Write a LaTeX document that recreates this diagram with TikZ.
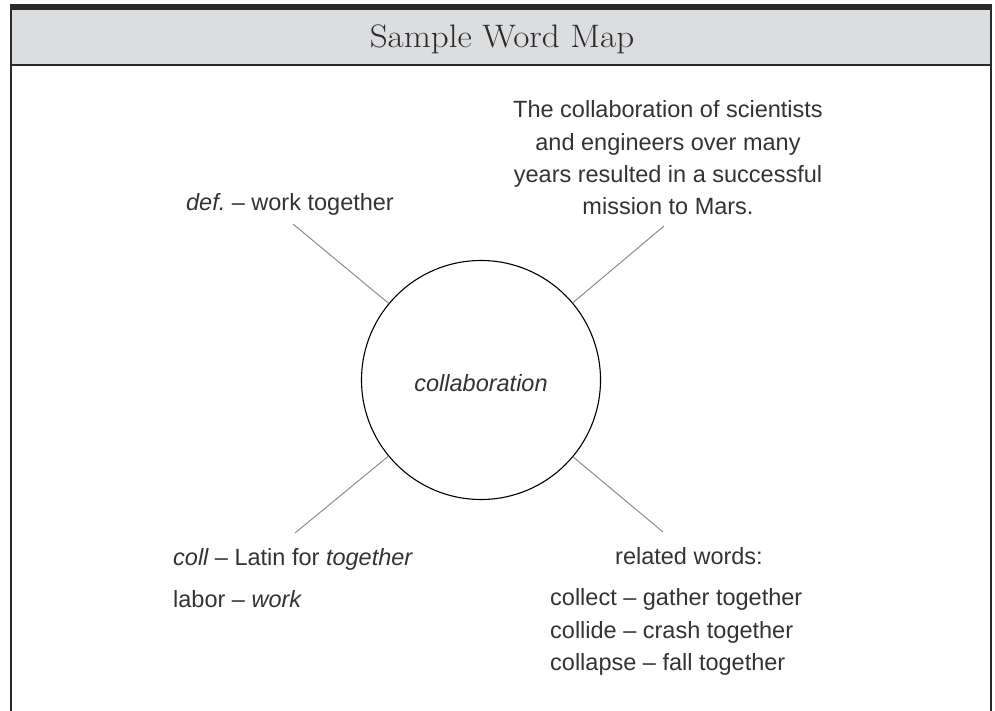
\documentclass[tikz,border=0pt]{standalone}
\usepackage{fontspec}
\usepackage{graphicx}
\newfontfamily\handfont{Liberation Sans}
\definecolor{bandgray}{HTML}{DCDDDF}
\definecolor{framedark}{HTML}{2A2A2A}
\definecolor{inkgray}{HTML}{333333}
\definecolor{connectgray}{HTML}{8C8C8C}
\tikzset{
  hand/.style={font=\handfont\fontsize{23.5}{28}\selectfont\frenchspacing, text=inkgray, inner sep=0pt},
  connector/.style={draw=connectgray, line width=1pt},
  framerule/.style={draw=framedark, line width=1.6pt},
}
\begin{document}
\begin{tikzpicture}[x=1pt,y=-1pt]
\useasboundingbox (0,0) rectangle (995,711);
% frame
\fill[bandgray] (11,10) rectangle (990.5,65);
\fill[framedark] (10.2,4.5) rectangle (991.5,10);
\draw[framerule] (10.2,65) -- (991.5,65);
\draw[framerule] (11,4.5) -- (11,711);
\draw[framerule] (990.7,4.5) -- (990.7,711);
\node[anchor=base, inner sep=0pt, text=framedark] (title) at (502,48)
  {\scalebox{1.08}[1]{\fontsize{32.5}{38}\selectfont Sample Word Map}};
% central circle
\node[circle, draw=black, line width=1.1pt, minimum size=239pt, inner sep=0pt] (c) at (481,380) {};
\node[hand, anchor=base] (cword) at (481,391) {\itshape collaboration};
% connector ends
\coordinate (ul) at (293,224);
\coordinate (ur) at (664,226);
\coordinate (ll) at (295,533);
\coordinate (lr) at (663,532);
\draw[connector] (c) -- (ul);
\draw[connector] (c) -- (ur);
\draw[connector] (c) -- (ll);
\draw[connector] (c) -- (lr);
% upper left
\node[hand, anchor=base] (def) at (290,211) {\itshape def.\upshape{} – work together};
% upper right sentence
\node[hand, anchor=base] (s1) at (668,118) {The collaboration of scientists};
\node[hand, anchor=base] (s2) at (668,151) {and engineers over many};
\node[hand, anchor=base] (s3) at (668,183) {years resulted in a successful};
\node[hand, anchor=base] (s4) at (668,215) {mission to Mars.};
% lower left
\node[hand, anchor=base west] (coll) at (173,565) {\itshape coll\upshape{} – Latin for \itshape together};
\node[hand, anchor=base west] (labor) at (173,607) {labor – \itshape work};
% lower right
\node[hand, anchor=base] (rel) at (689,564) {related words:};
\node[hand, anchor=base west] (w1) at (550,605) {collect – gather together};
\node[hand, anchor=base west] (w2) at (550,638) {collide – crash together};
\node[hand, anchor=base west] (w3) at (550,670) {collapse – fall together};
\end{tikzpicture}
\end{document}
